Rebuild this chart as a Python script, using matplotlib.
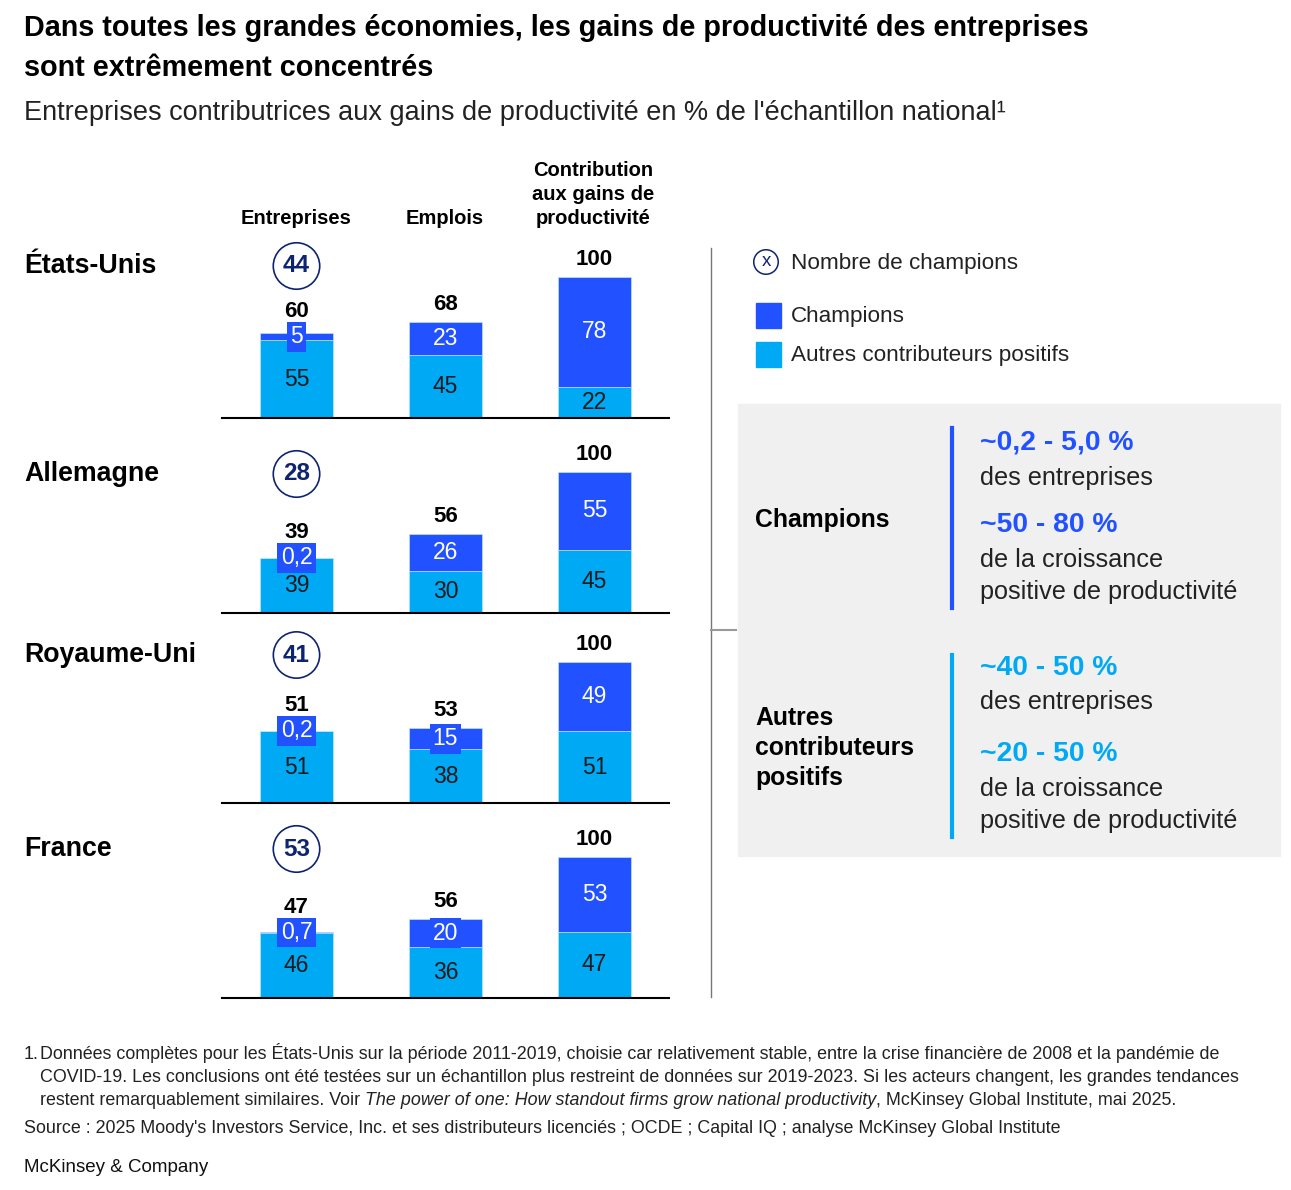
import matplotlib
matplotlib.use("Agg")
import matplotlib.pyplot as plt
from matplotlib import transforms
from matplotlib.patches import Rectangle

plt.rcParams['font.family'] = ['Liberation Sans', 'DejaVu Sans']

# data
countries = ['États-Unis', 'Allemagne', 'Royaume-Uni', 'France']
columns = ['Entreprises', 'Emplois', 'Contribution\naux gains de\nproductivité']
champion_counts = [44, 28, 41, 53]
totals = [[60, 68, 100], [39, 56, 100], [51, 53, 100], [47, 56, 100]]
champions = [[5, 23, 78], [0.2, 26, 55], [0.2, 15, 49], [0.7, 20, 53]]
others = [[55, 45, 22], [39, 30, 45], [51, 38, 51], [46, 36, 47]]

CHAMP = '#2251ff'
OTHER = '#00a9f4'
NAVY = '#0e2470'
W, H = 1291, 1190

fig = plt.figure(figsize=(W / 100, H / 100), dpi=100)


def fx(x):
    return x / W


def fy(y):
    return 1 - y / H


def fmt(v):
    if float(v).is_integer():
        return str(int(v))
    return str(v).replace('.', ',')


# title block
fig.text(fx(24), fy(28), "Dans toutes les grandes économies, les gains de productivité des entreprises",
         fontsize=20.7, fontweight='bold', va='center')
fig.text(fx(24), fy(68), "sont extrêmement concentrés", fontsize=20.7, fontweight='bold', va='center')
fig.text(fx(24), fy(113), "Entreprises contributrices aux gains de productivité en % de l'échantillon national¹",
         fontsize=19.5, va='center', color='#222222')

# one axes per country
baselines = [418, 613, 803, 998]
row_y = [266, 474, 655, 849]
px_per_unit = 1.41
ax_h = 175
for k, country in enumerate(countries):
    ax = fig.add_axes([fx(222), fy(baselines[k]), fx(447), ax_h / H])
    ax.set_xlim(-0.5, 2.5)
    ax.set_ylim(0, ax_h / px_per_unit)
    ax.axis('off')
    ax.axhline(0, color='black', lw=1.5, clip_on=False)
    xs = range(3)
    ax.bar(xs, others[k], width=0.49, color=OTHER, edgecolor='#b8e4ff', linewidth=0.5)
    ax.bar(xs, champions[k], width=0.49, bottom=others[k], color=CHAMP,
           edgecolor='#b8e4ff', linewidth=0.5)
    for i in xs:
        o, c = others[k][i], champions[k][i]
        ax.text(i, o / 2, fmt(o), ha='center', va='center', fontsize=16.5, color='#1a1a1a')
        mid = o + c / 2
        ax.text(i, mid, fmt(c), ha='center', va='center', fontsize=16.5, color='white',
                bbox=dict(boxstyle='square,pad=0.14', fc=CHAMP, ec='none'))
        # total label sits above the bar, or above the label box when the segment is thin
        off = max(c * px_per_unit / 2 + 7, 15)
        ax.annotate(fmt(totals[k][i]), xy=(i, mid), xytext=(0, off),
                    textcoords='offset pixels', ha='center', va='bottom',
                    fontsize=16, fontweight='bold')
    # champion count circle and country name
    tr = transforms.blended_transform_factory(ax.transData, fig.transFigure)
    ax.text(0, fy(row_y[k]), str(champion_counts[k]), transform=tr, ha='center', va='center',
            fontsize=17.5, fontweight='bold', color=NAVY, clip_on=False,
            bbox=dict(boxstyle='circle,pad=0.4', fc='white', ec=NAVY, lw=1.2))
    fig.text(fx(24), fy(row_y[k]), country, fontsize=19.3, fontweight='bold', va='center')

# column headers
header_x = [296, 445, 593]
for x, label in zip(header_x, columns):
    fig.text(fx(x), fy(228), label, ha='center', va='bottom', fontsize=14.5,
             fontweight='bold', linespacing=1.35)

# separator
fig.add_artist(plt.Line2D([fx(711), fx(711)], [fy(248), fy(997)], color='#777777', lw=1))
fig.add_artist(plt.Line2D([fx(711), fx(736)], [fy(630), fy(630)], color='#999999', lw=1.5))

# legend
fig.text(fx(766), fy(262), 'x', ha='center', va='center', fontsize=13.5, color=NAVY,
         bbox=dict(boxstyle='circle,pad=0.2', fc='white', ec=NAVY, lw=1.1))
fig.text(fx(791), fy(263), 'Nombre de champions', va='center', fontsize=16.2, color='#222222')
fig.add_artist(Rectangle((fx(756), fy(328)), fx(25), 25 / H, color=CHAMP))
fig.add_artist(Rectangle((fx(756), fy(367)), fx(25), 25 / H, color=OTHER))
fig.text(fx(791), fy(317), 'Champions', va='center', fontsize=16.2, color='#222222')
fig.text(fx(791), fy(356), 'Autres contributeurs positifs', va='center', fontsize=16.2,
         color='#222222')

# grey summary box
fig.add_artist(Rectangle((fx(738), fy(856)), fx(542), 452 / H, color='#f0f0f0', zorder=0))
fig.text(fx(755), fy(520), 'Champions', va='center', fontsize=17.8, fontweight='bold')
fig.text(fx(755), fy(748), 'Autres\ncontributeurs\npositifs', va='center', fontsize=17.8,
         fontweight='bold', linespacing=1.3)
fig.add_artist(plt.Line2D([fx(952), fx(952)], [fy(428), fy(608)], color=CHAMP, lw=3))
fig.add_artist(plt.Line2D([fx(952), fx(952)], [fy(655), fy(837)], color=OTHER, lw=3))

box_lines = [
    (443, '~0,2 - 5,0 %', CHAMP, 'bold'),
    (478, 'des entreprises', '#222222', 'normal'),
    (525, '~50 - 80 %', CHAMP, 'bold'),
    (560, 'de la croissance', '#222222', 'normal'),
    (592, 'positive de productivité', '#222222', 'normal'),
    (668, '~40 - 50 %', OTHER, 'bold'),
    (702, 'des entreprises', '#222222', 'normal'),
    (754, '~20 - 50 %', OTHER, 'bold'),
    (789, 'de la croissance', '#222222', 'normal'),
    (821, 'positive de productivité', '#222222', 'normal'),
]
for y, s, c, w in box_lines:
    fig.text(fx(980), fy(y), s, va='center', fontsize=20.3 if w == 'bold' else 18.2,
             color=c, fontweight=w)

# footnotes
overlay = fig.add_axes([0, 0, 1, 1], zorder=-1)
overlay.axis('off')
fs = 12.9
fig.text(fx(24), fy(1059), '1.', va='baseline', fontsize=fs, color='#222222')
fig.text(fx(40), fy(1059), "Données complètes pour les États-Unis sur la période 2011-2019, choisie car "
         "relativement stable, entre la crise financière de 2008 et la pandémie de",
         va='baseline', fontsize=fs, color='#222222')
fig.text(fx(40), fy(1082), "COVID-19. Les conclusions ont été testées sur un échantillon plus restreint "
         "de données sur 2019-2023. Si les acteurs changent, les grandes tendances",
         va='baseline', fontsize=fs, color='#222222')
t1 = fig.text(fx(40), fy(1105), "restent remarquablement similaires. Voir ", va='baseline',
              fontsize=fs, color='#222222')
t2 = overlay.annotate("The power of one: How standout firms grow national productivity",
                      xy=(1, 0), xycoords=t1, va='bottom', ha='left', fontsize=fs,
                      style='italic', color='#222222')
overlay.annotate(", McKinsey Global Institute, mai 2025.", xy=(1, 0), xycoords=t2,
                 va='bottom', ha='left', fontsize=fs, color='#222222')
fig.text(fx(24), fy(1133), "Source : 2025 Moody's Investors Service, Inc. et ses distributeurs "
         "licenciés ; OCDE ; Capital IQ ; analyse McKinsey Global Institute",
         va='baseline', fontsize=fs, color='#222222')
fig.text(fx(24), fy(1168), "McKinsey & Company", va='center', fontsize=13.5, color='#111111')

fig.savefig('out.png', dpi=100)
